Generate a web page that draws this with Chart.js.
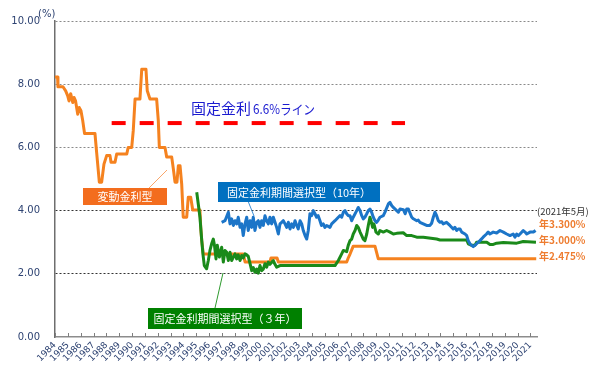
<!DOCTYPE html>
<html><head><meta charset="utf-8">
<script src="https://cdn.jsdelivr.net/npm/chart.js@4.4.0/dist/chart.umd.min.js"></script>
<style>html,body{margin:0;padding:0;background:#fff}#wrap{width:600px;height:373px;position:relative}</style>
</head><body><div id="wrap"><canvas id="c" width="600" height="373"></canvas></div>
<script>
// ---- data (decimal years, % rates) ----
const yearLabels = [1984,1985,1986,1987,1988,1989,1990,1991,1992,1993,1994,1995,1996,1997,1998,1999,2000,2001,2002,2003,2004,2005,2006,2007,2008,2009,2010,2011,2012,2013,2014,2015,2016,2017,2018,2019,2020,2021];
const yTickValues = [0,2,4,6,8,10];

const floatYears = [1984.0,1984.2,1984.23,1984.62,1984.83,1984.99,1985.09,1985.22,1985.38,1985.48,1985.6,1985.77,1985.89,1986.02,1986.16,1986.3,1987.11,1987.24,1987.45,1987.63,1987.81,1988.02,1988.28,1988.36,1988.67,1988.8,1989.58,1989.7,1989.97,1990.09,1990.23,1990.61,1990.75,1991.08,1991.18,1991.39,1991.91,1992.04,1992.12,1992.56,1992.69,1993.08,1993.21,1993.34,1993.49,1993.6,1993.73,1993.86,1993.98,1994.25,1994.37,1994.56,1994.72,1995.28,1995.34,1995.42,1995.54,1998.65,1998.79,2000.73,2000.81,2001.28,2001.38,2006.7,2006.82,2006.96,2007.21,2008.9,2009.16,2021.45];
const floatRates = [8.23,8.23,7.92,7.92,7.79,7.63,7.47,7.70,7.42,7.58,7.47,7.05,7.26,7.16,6.84,6.44,6.44,5.84,4.90,4.90,5.47,5.74,5.74,5.53,5.53,5.79,5.79,6.00,6.00,6.53,7.53,7.53,8.47,8.47,7.79,7.53,7.53,6.84,6.00,6.00,5.70,5.70,5.32,4.90,4.90,5.42,5.42,4.84,3.79,3.79,4.42,4.42,4.02,4.02,3.47,3.05,2.625,2.625,2.375,2.375,2.5,2.5,2.375,2.375,2.5,2.625,2.875,2.875,2.475,2.475];

const fix3Years = [1995.03,1995.15,1995.28,1995.42,1995.52,1995.62,1995.8,1995.93,1996.06,1996.19,1996.32,1996.41,1996.53,1996.63,1996.79,1996.97,1997.1,1997.23,1997.36,1997.49,1997.62,1997.75,1997.88,1998.01,1998.14,1998.26,1998.4,1998.53,1998.65,1998.79,1998.92,1999.04,1999.18,1999.31,1999.43,1999.56,1999.7,1999.82,1999.95,2000.08,2000.21,2000.34,2000.47,2000.6,2000.73,2000.99,2001.12,2001.25,2001.51,2005.79,2006.05,2006.31,2006.44,2006.7,2006.82,2006.96,2007.09,2007.21,2007.35,2007.48,2007.6,2007.74,2007.87,2007.99,2008.12,2008.26,2008.38,2008.51,2008.59,2008.72,2008.82,2008.98,2009.16,2009.29,2009.55,2009.81,2010.07,2010.33,2010.59,2011.1,2011.37,2011.76,2012.15,2012.66,2013.7,2013.96,2016.04,2016.16,2016.43,2016.68,2016.81,2017.6,2017.85,2018.11,2018.37,2018.89,2019.93,2020.44,2021.43];
const fix3Rates = [4.58,4.21,3.79,3.05,2.60,2.26,2.16,2.42,2.74,2.95,3.10,2.90,2.47,2.90,2.53,2.84,2.37,2.74,2.68,2.42,2.68,2.42,2.53,2.63,2.47,2.60,2.42,2.58,2.50,2.63,2.60,2.55,2.32,2.10,2.20,2.05,2.15,2.02,2.26,2.10,2.15,2.32,2.21,2.37,2.30,2.42,2.30,2.21,2.26,2.26,2.42,2.63,2.74,2.70,2.90,3.05,3.10,3.26,3.37,3.53,3.47,3.32,3.21,3.10,3.05,3.26,3.53,3.79,3.68,3.47,3.58,3.32,3.26,3.37,3.32,3.37,3.32,3.26,3.28,3.30,3.21,3.21,3.16,3.16,3.10,3.07,3.07,2.95,2.90,2.90,3.00,3.00,2.93,2.93,2.97,2.99,2.97,3.02,3.00];

const fix10Years = [1996.97,1997.23,1997.49,1997.62,1997.75,1997.88,1998.01,1998.14,1998.26,1998.4,1998.53,1998.65,1998.79,1998.92,1999.04,1999.18,1999.31,1999.43,1999.56,1999.7,1999.82,1999.95,2000.08,2000.21,2000.34,2000.47,2000.6,2000.73,2000.86,2000.99,2001.12,2001.25,2001.38,2001.51,2001.64,2001.77,2001.9,2002.03,2002.16,2002.29,2002.42,2002.55,2002.68,2002.81,2002.93,2003.07,2003.2,2003.32,2003.46,2003.59,2003.71,2003.84,2003.97,2004.1,2004.23,2004.36,2004.48,2004.62,2004.74,2004.88,2005.0,2005.14,2005.27,2005.4,2005.53,2005.79,2006.05,2006.18,2006.31,2006.44,2006.57,2006.7,2006.82,2006.96,2007.09,2007.21,2007.48,2007.6,2007.74,2007.87,2007.99,2008.12,2008.26,2008.38,2008.51,2008.64,2008.77,2008.9,2009.03,2009.16,2009.29,2009.55,2009.68,2009.94,2010.07,2010.2,2010.33,2010.59,2010.72,2010.85,2011.11,2011.25,2011.37,2011.5,2011.76,2011.89,2012.15,2012.27,2012.4,2012.66,2012.92,2013.18,2013.31,2013.44,2013.57,2013.7,2013.83,2013.96,2014.09,2014.21,2014.47,2014.73,2014.99,2015.12,2015.26,2015.38,2015.52,2015.65,2015.91,2016.04,2016.16,2016.29,2016.55,2016.68,2016.81,2017.07,2017.32,2017.58,2017.71,2017.84,2018.1,2018.37,2018.63,2018.89,2019.15,2019.41,2019.66,2019.8,2019.93,2020.06,2020.19,2020.44,2020.58,2020.71,2020.97,2021.23,2021.4];
const fix10Rates = [3.63,3.68,3.95,3.58,3.74,3.53,3.68,3.58,3.79,3.47,3.58,3.21,3.58,3.79,3.37,3.68,3.47,3.79,3.37,3.63,3.68,3.47,3.68,3.53,3.84,3.68,3.58,3.79,3.58,3.79,3.63,3.47,3.26,3.58,3.63,3.68,3.58,3.47,3.63,3.42,3.58,3.47,3.68,3.53,3.42,3.68,3.58,3.37,3.21,3.10,3.37,3.90,3.84,4.00,3.90,3.79,3.84,3.68,3.53,3.58,3.47,3.53,3.50,3.47,3.58,3.68,3.79,3.84,3.79,3.95,4.00,3.90,3.84,3.84,3.68,3.79,4.00,4.10,4.00,3.84,3.74,3.79,3.90,4.00,4.05,3.95,3.79,3.68,3.63,3.70,3.79,3.84,3.95,4.21,4.26,4.16,4.10,4.00,3.95,4.05,4.03,3.90,4.05,4.05,3.79,3.74,3.68,3.70,3.63,3.58,3.53,3.53,3.60,3.79,3.95,3.84,3.68,3.63,3.65,3.58,3.63,3.53,3.42,3.47,3.37,3.42,3.42,3.32,3.26,3.21,3.05,2.95,2.86,2.90,2.95,3.05,3.16,3.26,3.32,3.26,3.32,3.29,3.37,3.32,3.26,3.21,3.26,3.16,3.26,3.21,3.26,3.37,3.32,3.26,3.32,3.32,3.37];

const lineYears = [1988.41, 2011.24];
const lineRates = [6.77, 6.77];

const seriesNames = ['変動金利型','固定金利期間選択型（３年）','固定金利期間選択型（10年）','固定金利6.6%ライン'];
const latestLabels = ['年3.300%','年3.000%','年2.475%'];
const latestDate = '(2021年5月)';

function pts(xs, ys){ return xs.map((x,i)=>({x:x,y:ys[i]})); }

const JP = '"Noto Sans CJK JP","Noto Sans",sans-serif';
const AXIS_COLOR = '#2E4372';

const annot = {
  id:'annot',
  afterDraw(chart){
    const ctx = chart.ctx, xs = chart.scales.x, a = chart.chartArea;
    ctx.save();
    // inside tick marks on x-axis
    ctx.strokeStyle = '#7f7f7f'; ctx.lineWidth = 1;
    yearLabels.forEach(v=>{
      const px = Math.round(xs.getPixelForValue(v))+0.5;
      ctx.beginPath(); ctx.moveTo(px, a.bottom); ctx.lineTo(px, a.bottom-4); ctx.stroke();
    });
    // (%) unit
    ctx.fillStyle = AXIS_COLOR; ctx.font = '10px "DejaVu Sans",sans-serif';
    ctx.textAlign='left'; ctx.textBaseline='middle';
    ctx.fillText('(%)', 38, 14);

    // leader lines
    ctx.lineWidth = 1;
    ctx.strokeStyle = '#F9A66B';
    ctx.beginPath(); ctx.moveTo(148,189); ctx.lineTo(167,170); ctx.stroke();
    ctx.strokeStyle = '#3D8FD6';
    ctx.beginPath(); ctx.moveTo(248,201); ctx.lineTo(254,216); ctx.stroke();
    ctx.strokeStyle = '#2E9A2E';
    ctx.beginPath(); ctx.moveTo(215,308); ctx.lineTo(223,273); ctx.stroke();

    // boxes
    function box(x,y,w,h,fill,text){
      ctx.fillStyle = fill; ctx.fillRect(x,y,w,h);
      ctx.fillStyle = '#fff'; ctx.font = '11px '+JP; ctx.textAlign='center'; ctx.textBaseline='middle';
      ctx.fillText(text, x+w/2, y+h/2+0.5);
    }
    box(83,188,84,17,'#F36D1E',seriesNames[0]);
    box(218,182,162,20,'#0070C0',seriesNames[2]);
    box(148,308,154,21,'#008000',seriesNames[1]);

    // 6.6% line caption
    ctx.fillStyle = '#1B1BD0'; ctx.textAlign='left'; ctx.textBaseline='alphabetic';
    ctx.font = '15px '+JP;
    ctx.fillText('固定金利', 191, 114, 60);
    ctx.font = '13px '+JP;
    ctx.fillText('6.6%ライン', 253, 114, 62);

    // right side labels
    ctx.textBaseline='middle'; ctx.textAlign='left';
    ctx.fillStyle = '#333'; ctx.font = '9.5px '+JP;
    ctx.fillText(latestDate, 537, 211, 56);
    ctx.fillStyle = '#EE7D31'; ctx.font = 'bold 10px '+JP;
    ctx.fillText(latestLabels[0], 539, 224, 47);
    ctx.fillText(latestLabels[1], 539, 240, 47);
    ctx.fillText(latestLabels[2], 539, 256, 47);
    ctx.restore();
  }
};

new Chart(document.getElementById('c'), {
  type:'line',
  data:{ datasets:[
    {label:seriesNames[3], data:pts(lineYears,lineRates), borderColor:'#FF0000', borderWidth:4, borderDash:[14,14], pointRadius:0, order:0, borderCapStyle:'butt'},
    {label:seriesNames[2], data:pts(fix10Years,fix10Rates), borderColor:'#1C75C8', borderWidth:3, pointRadius:0, tension:0, order:1},
    {label:seriesNames[1], data:pts(fix3Years,fix3Rates), borderColor:'#1A8A1A', borderWidth:3, pointRadius:0, tension:0, order:2},
    {label:seriesNames[0], data:pts(floatYears,floatRates), borderColor:'#F5821F', borderWidth:3, pointRadius:0, tension:0, order:3}
  ]},
  options:{
    responsive:false, animation:false,
    layout:{padding:{top:20,right:63,left:0,bottom:0}},
    plugins:{legend:{display:false}, tooltip:{enabled:false}},
    elements:{line:{borderJoinStyle:'round'}},
    scales:{
      x:{ type:'linear', min:1984, max:2021.51,
        afterBuildTicks(s){ s.ticks = yearLabels.map(v=>({value:v})); },
        afterFit(s){ s.height = 36; },
        grid:{display:false, drawTicks:false},
        border:{display:true, color:'#8c8c8c', width:1.5},
        ticks:{ autoSkip:false, minRotation:45, maxRotation:45, padding:3, color:AXIS_COLOR,
          font:{family:'"DejaVu Sans",sans-serif', size:9}, callback:(v)=>String(v) }
      },
      y:{ min:0, max:10,
        afterBuildTicks(s){ s.ticks = yTickValues.map(v=>({value:v})); },
        afterFit(s){ s.width = 55; },
        grid:{ drawTicks:false, color:(c)=> c.tick && c.tick.value===0 ? 'rgba(0,0,0,0)' : (c.tick && c.tick.value<=4 ? '#333' : '#8a8a8a'), lineWidth:1 },
        border:{display:true, color:'#6e6e6e', width:1.5, dash:[2,2]},
        ticks:{ padding:15, color:AXIS_COLOR, font:{family:'"DejaVu Sans",sans-serif', size:10}, callback:(v)=>Number(v).toFixed(2) }
      }
    }
  },
  plugins:[annot]
});
</script>
</body></html>
